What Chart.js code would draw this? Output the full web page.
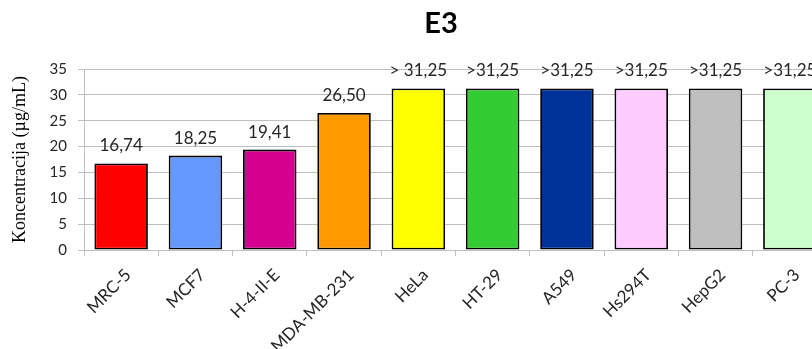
<!DOCTYPE html>
<html>
<head>
<meta charset="utf-8">
<script src="https://cdn.jsdelivr.net/npm/chart.js@4/dist/chart.umd.min.js"></script>
<style>
  html, body { margin: 0; padding: 0; background: #ffffff; overflow: hidden; }
  #wrap { width: 812px; height: 349px; overflow: hidden; position: relative; }
  canvas { display: block; }
</style>
</head>
<body>
<div id="wrap"><canvas id="c" width="860" height="349"></canvas></div>
<script>
// Cell lines tested with compound E3
const cellLines = ['MRC-5', 'MCF7', 'H-4-II-E', 'MDA-MB-231', 'HeLa', 'HT-29', 'A549', 'Hs294T', 'HepG2', 'PC-3'];
// IC50 concentrations (µg/mL); 31.25 is the highest tested concentration
const concentrations = [16.74, 18.25, 19.41, 26.50, 31.25, 31.25, 31.25, 31.25, 31.25, 31.25];
// Prefix shown before the value ("greater than" for inactive lines)
const labelPrefix = ['', '', '', '', '> ', '>', '>', '>', '>', '>'];
const barColors = ['#FF0000', '#6699FF', '#D6008F', '#FF9900', '#FFFF00', '#33CC33', '#003399', '#FFCCFF', '#BEBEBE', '#CCFFCC'];
const yTicks = [0, 5, 10, 15, 20, 25, 30, 35];

const chartTitle = 'E3';
const yTitle = 'Koncentracija (µg/mL)';

// Light dotted fill for the HepG2 bar
function dottedFill(base, dot) {
  const p = document.createElement('canvas');
  p.width = 4; p.height = 4;
  const g = p.getContext('2d');
  g.fillStyle = base; g.fillRect(0, 0, 4, 4);
  g.fillStyle = dot; g.fillRect(0, 0, 1, 1); g.fillRect(2, 2, 1, 1);
  return g.createPattern(p, 'repeat');
}
const fills = barColors.slice();
fills[8] = dottedFill('#BDBDBD', '#CBCBCB');

const fmt = v => v.toFixed(2).replace('.', ',');

const titlePlugin = {
  id: 'topTitle',
  afterDraw(chart) {
    const ctx = chart.ctx;
    ctx.save();
    ctx.font = 'bold 29px Lato';
    ctx.fillStyle = '#000000';
    ctx.textAlign = 'center';
    ctx.textBaseline = 'middle';
    ctx.fillText(chartTitle, 441, 24);
    ctx.restore();
  }
};

const valueLabels = {
  id: 'valueLabels',
  afterDatasetsDraw(chart) {
    const ctx = chart.ctx;
    const meta = chart.getDatasetMeta(0);
    ctx.save();
    ctx.font = '17px Lato';
    ctx.fillStyle = '#262626';
    ctx.textAlign = 'center';
    ctx.textBaseline = 'alphabetic';
    meta.data.forEach((bar, i) => {
      const text = labelPrefix[i] + fmt(concentrations[i]);
      ctx.fillText(text, bar.x, bar.y - 12);
    });
    ctx.restore();
  }
};

new Chart(document.getElementById('c'), {
  type: 'bar',
  data: {
    labels: cellLines,
    datasets: [{
      data: concentrations,
      backgroundColor: fills,
      borderColor: '#000000',
      borderWidth: 1.8,
      borderSkipped: false,
      barPercentage: 0.72,
      categoryPercentage: 1.0
    }]
  },
  options: {
    responsive: false,
    animation: false,
    devicePixelRatio: 1,
    layout: { padding: { left: 0, top: 69, right: 33, bottom: 0 } },
    plugins: {
      legend: { display: false },
      title: { display: false },
      tooltip: { enabled: false }
    },
    scales: {
      x: {
        afterFit(scale) { scale.height = 99; },
        grid: {
          offset: true,
          drawOnChartArea: false,
          drawTicks: true,
          tickLength: 6,
          color: '#BFBFBF'
        },
        border: { display: true, color: '#BFBFBF' },
        ticks: {
          minRotation: 45,
          maxRotation: 45,
          padding: 9,
          labelOffset: 7,
          autoSkip: false,
          color: '#262626',
          font: { family: 'Lato', size: 17 }
        }
      },
      y: {
        min: 0,
        max: 35,
        afterFit(scale) { scale.width = 84; },
        afterBuildTicks(scale) { scale.ticks = yTicks.map(v => ({ value: v })); },
        grid: {
          color: '#BFBFBF',
          drawTicks: true,
          tickLength: 6
        },
        border: { display: true, color: '#BFBFBF' },
        ticks: {
          padding: 11,
          color: '#262626',
          font: { family: 'Lato', size: 15 }
        },
        title: {
          display: true,
          text: yTitle,
          color: '#000000',
          padding: { top: 9, bottom: 0 },
          font: { family: 'Liberation Serif', size: 18 }
        }
      }
    }
  },
  plugins: [titlePlugin, valueLabels]
});
</script>
</body>
</html>
